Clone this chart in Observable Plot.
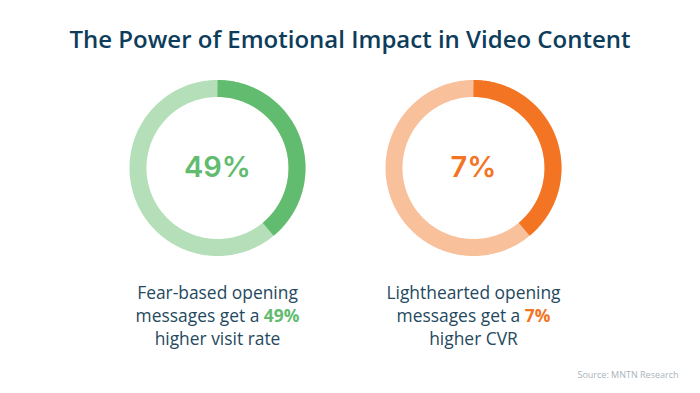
<!DOCTYPE html>
<html>
<head>
<meta charset="utf-8">
<script src="https://cdn.jsdelivr.net/npm/d3@7"></script>
<script src="https://cdn.jsdelivr.net/npm/@observablehq/plot@0.6"></script>
<style>
  html, body { margin: 0; padding: 0; background: #fff; }
  #title { height: 64px; box-sizing: border-box; padding-top: 22px; line-height: 30px;
           font: 600 24px "Open Sans", sans-serif; color: #0d3d5b; text-align: center; }
  svg { display: block; }
</style>
</head>
<body>
<div id="title"></div>
<div id="chart"></div>
<script>
// ---- data ----
const chartTitle = "The Power of Emotional Impact in Video Content";
const metrics = ["Fear-based", "Lighthearted"];
const valueLabels = ["49%", "7%"];
const arcShare = [0.39, 0.39];          // share of the ring drawn in the dark tone
const captionLine1 = ["Fear-based opening", "Lighthearted opening"];
const captionLine2Lead = ["messages get a ", "messages get a "];
const captionLine3 = ["higher visit rate", "higher CVR"];
const sourceText = "Source: MNTN Research";

// ---- layout / style constants ----
const W = 700, H = 329;
const centersX = [217, 473], centerY = 103.5;
const ringR = 79.5, ringW = 17;
const darkColors = ["#62bc6f", "#f37423"];
const lightColors = ["#b4dfb9", "#f9c19b"];
const textColor = "#24495e";

document.getElementById("title").textContent = chartTitle;

// ring geometry through the scales
function arcPoints(i, from, to, part) {
  const pts = [];
  const steps = Math.max(2, Math.round((to - from) * 360));
  for (let k = 0; k <= steps; k++) {
    const t = (from + (to - from) * k / steps) * 2 * Math.PI;
    pts.push({metric: metrics[i], part, x: centersX[i] + ringR * Math.sin(t), y: centerY - ringR * Math.cos(t)});
  }
  return pts;
}
const lightRings = metrics.flatMap((m, i) => arcPoints(i, 0, 1, "light"));
const darkArcs = metrics.flatMap((m, i) => arcPoints(i, 0, arcShare[i], "dark"));
const items = metrics.map((m, i) => ({metric: m, i, x: centersX[i]}));

const chart = Plot.plot({
  width: W, height: H,
  margin: 0,
  x: {domain: [0, W], range: [0, W], axis: null},
  y: {domain: [0, H], range: [0, H], axis: null},
  marks: [
    Plot.line(lightRings, {x: "x", y: "y", z: "metric", stroke: d => lightColors[metrics.indexOf(d.metric)], strokeWidth: ringW, strokeLinejoin: "round"}),
    Plot.line(darkArcs, {x: "x", y: "y", z: "metric", stroke: d => darkColors[metrics.indexOf(d.metric)], strokeWidth: ringW, strokeLinecap: "butt"}),
    Plot.text(items, {x: "x", y: () => centerY, text: d => valueLabels[d.i], fill: d => darkColors[d.i],
      fontSize: 29, fontWeight: 600, fontFamily: "Inter", textAnchor: "middle"}),
    Plot.text(items, {x: "x", y: () => 229, text: d => captionLine1[d.i], fill: textColor, fontSize: 17.4, fontFamily: "Open Sans"}),
    Plot.text(items, {x: "x", y: () => 252, text: d => captionLine2Lead[d.i] + valueLabels[d.i], fill: textColor, fontSize: 17.4, fontFamily: "Open Sans", className: "hl-line"}),
    Plot.text(items, {x: "x", y: () => 275, text: d => captionLine3[d.i], fill: textColor, fontSize: 17.4, fontFamily: "Open Sans"}),
    Plot.text([sourceText], {x: () => 678, y: () => 311, text: d => d, textAnchor: "end", fill: "#a9b4bc", fontSize: 9, fontFamily: "Open Sans"})
  ]
});

// color the highlighted value inside the second caption line
chart.querySelectorAll(".hl-line text").forEach((t, k) => {
  const i = k;
  t.textContent = "";
  const a = document.createElementNS("http://www.w3.org/2000/svg", "tspan");
  a.textContent = captionLine2Lead[i];
  const b = document.createElementNS("http://www.w3.org/2000/svg", "tspan");
  b.textContent = valueLabels[i];
  b.setAttribute("fill", darkColors[i]);
  b.setAttribute("font-weight", "700");
  t.appendChild(a); t.appendChild(b);
});

document.getElementById("chart").appendChild(chart);
</script>
</body>
</html>
